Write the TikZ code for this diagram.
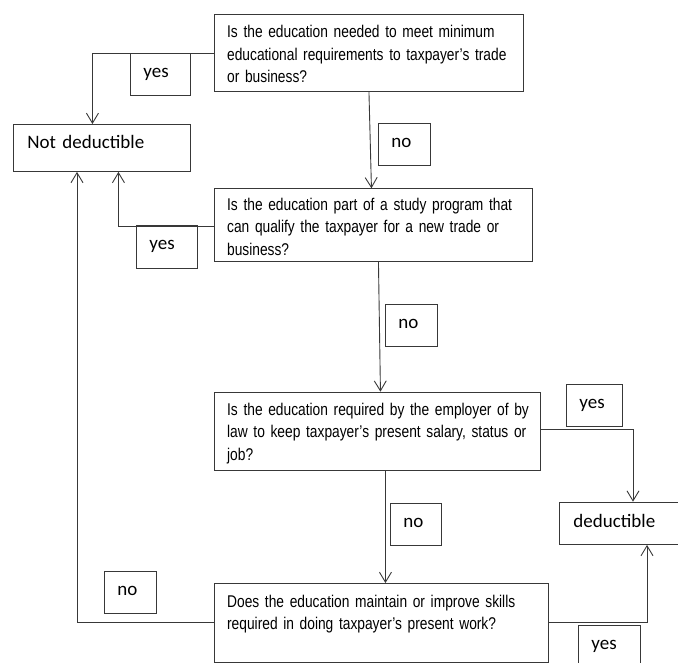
\documentclass[tikz,border=0pt]{standalone}
\usepackage{fontspec}
\usepackage{tikz}
\usetikzlibrary{arrows.meta}
\usetikzlibrary{positioning}
\newfontfamily\askfont{Liberation Sans}[FakeStretch=0.81]
\newfontfamily\tagfont{Carlito}
\definecolor{mgray}{rgb}{0.22, 0.22, 0.22}
\tikzset{ask/.style = {draw = mgray, line width = 0.9, anchor = north west, align = left, inner xsep = 0, inner ysep = 0, execute at begin node = {\leftskip = 12.7pt}, font = \askfont\fontsize{17}{22.5}\selectfont}}
\tikzset{result/.style = {draw = mgray, line width = 0.9, anchor = north west, align = left, inner xsep = 14, inner ysep = 0, font = \tagfont\fontsize{19}{22}\selectfont}}
\tikzset{tag/.style = {draw = mgray, line width = 0.9, anchor = north west, align = left, inner xsep = 13, inner ysep = 0, text height = 24pt, text depth = 18pt, font = \tagfont\fontsize{19}{22}\selectfont}}
\tikzset{arr/.style = {draw = mgray, line width = 0.9, -{Straight Barb[length = 10pt, width = 12pt]}}}

\begin{document}
\begin{tikzpicture}[x = 1pt, y = -1pt]
      \useasboundingbox (0, 0) rectangle (678, 662);
      % questions
      \node [ask, text width = 309pt, text height = 23.3pt, text depth = 53.7pt] (q1) at (214, 14) {Is the education needed to meet minimum\\educational requirements to taxpayer’s trade\\or business?};
      \node [ask, text width = 318pt, text height = 21.7pt, text depth = 51pt] (q2) at (214, 188.3) {Is the education part of a study program that\\can qualify the taxpayer for a new trade or\\business?};
      \node [ask, text width = 326pt, text height = 23.3pt, text depth = 55pt] (q3) at (214, 391.7) {Is the education required by the employer of by\\law to keep taxpayer’s present salary, status or\\job?};
      \node [ask, text width = 334pt, text height = 23.7pt, text depth = 55pt] (q4) at (214, 583) {Does the education maintain or improve skills\\required in doing taxpayer’s present work?};
      % outcomes
      \node [result, text width = 149pt, text height = 24.3pt, text depth = 22.7pt] (nd) at (13, 124) {Not deductible};
      \node [result, text width = 150pt, text height = 25pt, text depth = 17.3pt] (ded) at (559, 501.7) {deductible};
      % answers
      \node [tag, text width = 34pt] (yes1) at (130, 53) {yes};
      \node [tag, text width = 26pt] (no1) at (378, 123) {no};
      \node [tag, text width = 35pt, text depth = 19pt] (yes2) at (136, 225) {yes};
      \node [tag, text width = 26pt] (no2) at (385, 304) {no};
      \node [tag, text width = 30pt] (yes3) at (566, 384) {yes};
      \node [tag, text width = 25pt] (no3) at (390, 503) {no};
      \node [tag, text width = 26pt] (no4) at (104, 570.7) {no};
      \node [tag, text width = 36pt, text depth = 26pt] (yes4) at (578, 625) {yes};
      % connectors
      \draw [arr] (q1.west) -| ([xshift = -9.5]nd.north);
      \draw [arr] (q1.south) -- ([xshift = -2]q2.north);
      \draw [arr] ([yshift = -1.5]q2.west) -| ([xshift = 16.5]nd.south);
      \draw [arr] ([xshift = 5]q2.south) -- ([xshift = 3]q3.north);
      \draw [arr] ([yshift = 2]q3.east) -| ([xshift = 74]ded.north west);
      \draw [arr] ([xshift = 8]q3.south) -- ([xshift = 4]q4.north);
      \draw [arr] (q4.east) -| ([xshift = 88]ded.south west);
      \draw [arr] (q4.west) -| ([xshift = 64]nd.south west);
    \end{tikzpicture}
\end{document}
